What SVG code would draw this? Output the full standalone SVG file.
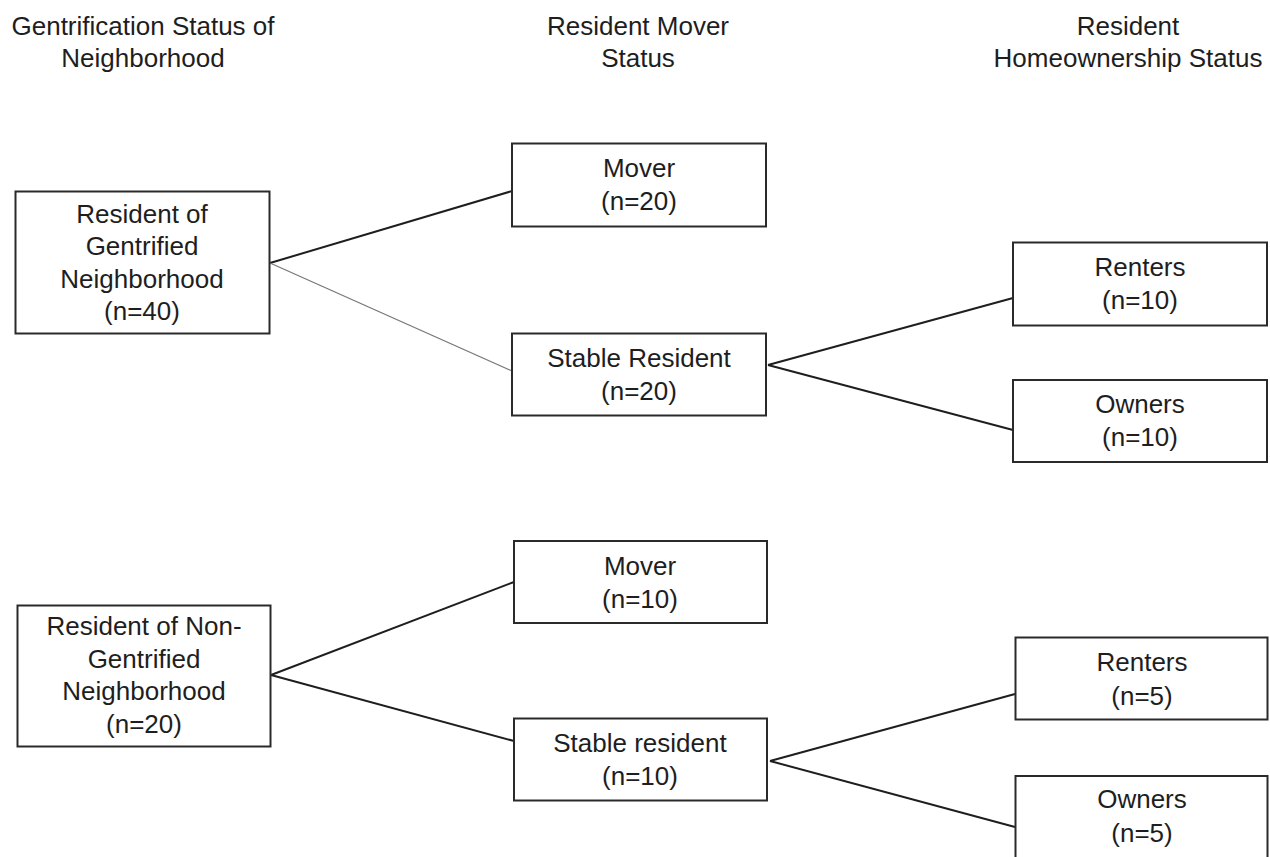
<svg xmlns="http://www.w3.org/2000/svg" width="1270" height="857" viewBox="0 0 1270 857">
<style>
.box{fill:#fff;stroke:#2a2a2a;stroke-width:2}
text{font-family:"Liberation Sans",Arial,sans-serif;font-size:26px;fill:#1e1e1e;text-anchor:middle}
.c{stroke:#1e1e1e;stroke-width:2;fill:none}
.thin{stroke:#777;stroke-width:1.2;fill:none}
</style>
<rect width="1270" height="857" fill="#fff"/>
<g id="headers">
<text x="143" y="35">Gentrification Status of</text>
<text x="143" y="67">Neighborhood</text>
<text x="638" y="35">Resident Mover</text>
<text x="638" y="67">Status</text>
<text x="1128" y="35">Resident</text>
<text x="1128" y="67">Homeownership Status</text>
</g>
<g id="connectors">
<line class="c" x1="270" y1="263" x2="512" y2="191"/>
<line class="thin" x1="270" y1="263" x2="512" y2="371"/>
<line class="c" x1="768" y1="365" x2="1013" y2="298"/>
<line class="c" x1="768" y1="365" x2="1013" y2="430"/>
<line class="c" x1="271" y1="675" x2="514" y2="582"/>
<line class="c" x1="271" y1="675" x2="514" y2="741"/>
<line class="c" x1="770" y1="761" x2="1015" y2="694"/>
<line class="c" x1="770" y1="761" x2="1015" y2="827"/>
</g>
<g id="gentrified">
<rect class="box" x="15.5" y="191.5" width="254" height="142"/>
<text x="142" y="223">Resident of</text>
<text x="142" y="255">Gentrified</text>
<text x="142" y="288">Neighborhood</text>
<text x="142" y="320">(n=40)</text>
</g>
<g id="mover1">
<rect class="box" x="512" y="143.5" width="254" height="83"/>
<text x="639" y="177">Mover</text>
<text x="639" y="210">(n=20)</text>
</g>
<g id="stable1">
<rect class="box" x="512" y="333.5" width="254" height="82"/>
<text x="639" y="367">Stable Resident</text>
<text x="639" y="400">(n=20)</text>
</g>
<g id="renters1">
<rect class="box" x="1013" y="242.5" width="254" height="83"/>
<text x="1140" y="276">Renters</text>
<text x="1140" y="309">(n=10)</text>
</g>
<g id="owners1">
<rect class="box" x="1013" y="380" width="254" height="82"/>
<text x="1140" y="413">Owners</text>
<text x="1140" y="446">(n=10)</text>
</g>
<g id="nongentrified">
<rect class="box" x="17.5" y="605.5" width="253" height="141"/>
<text x="144" y="635">Resident of Non-</text>
<text x="144" y="668">Gentrified</text>
<text x="144" y="700">Neighborhood</text>
<text x="144" y="733">(n=20)</text>
</g>
<g id="mover2">
<rect class="box" x="514" y="541" width="253" height="82"/>
<text x="640" y="575">Mover</text>
<text x="640" y="608">(n=10)</text>
</g>
<g id="stable2">
<rect class="box" x="514" y="718.5" width="253" height="82"/>
<text x="640" y="752">Stable resident</text>
<text x="640" y="785">(n=10)</text>
</g>
<g id="renters2">
<rect class="box" x="1015.5" y="637.5" width="252" height="82"/>
<text x="1142" y="671">Renters</text>
<text x="1142" y="705">(n=5)</text>
</g>
<g id="owners2">
<rect class="box" x="1015.5" y="776" width="252" height="100"/>
<text x="1142" y="808">Owners</text>
<text x="1142" y="842">(n=5)</text>
</g>
</svg>
